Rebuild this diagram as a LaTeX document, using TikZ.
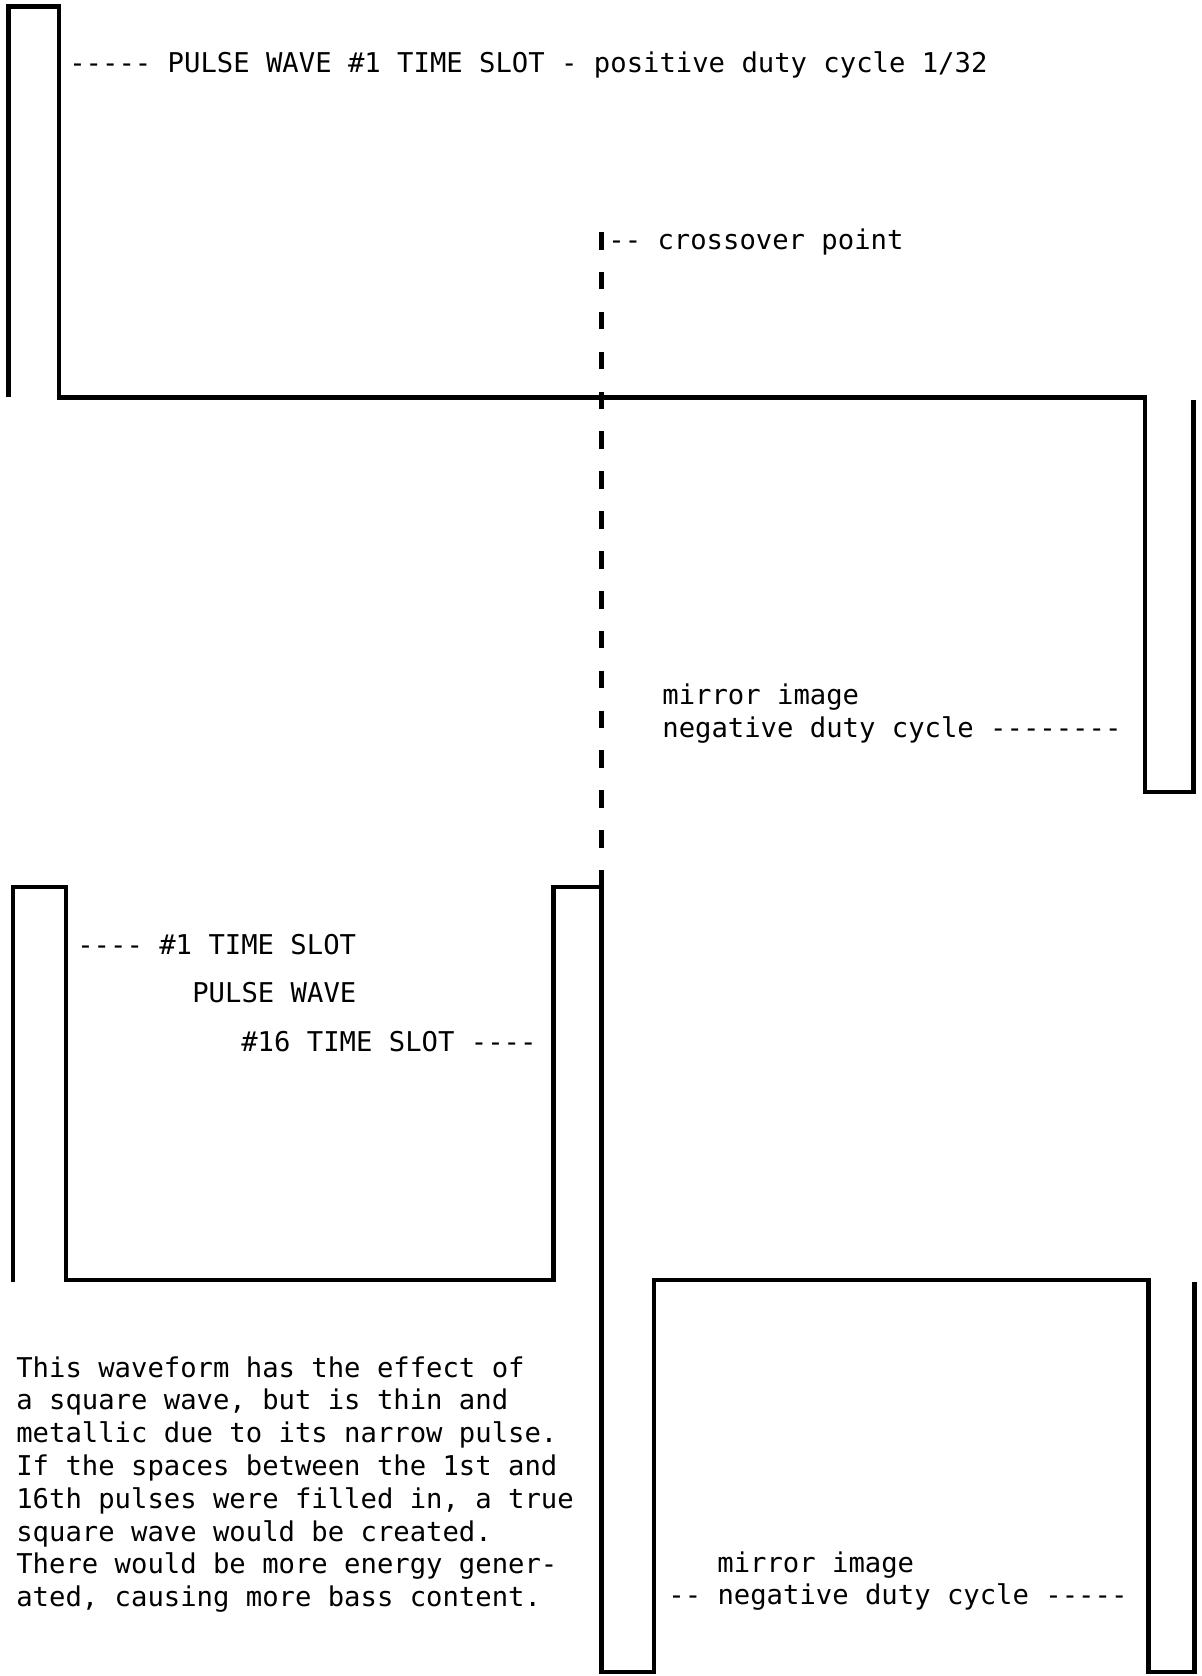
\documentclass[tikz,border=0pt]{standalone}
\usepackage{fontspec}
\setmonofont{DejaVu Sans Mono}
\begin{document}
\begin{tikzpicture}[x=0.02cm,y=-0.02cm,
  wave/.style={line width=2.3pt, line join=miter},
  crossline/.style={line width=2.6pt, dash pattern=on 10pt off 12.7pt},
  lbl/.style={anchor=base west, inner sep=0pt, font=\ttfamily\fontsize{15.5}{19}\selectfont}]
\useasboundingbox (0,0) rectangle (1202,1676);
% top waveform
\draw[wave] (8.5,397) -- (8.5,6.5) -- (59,6.5) -- (59,397.5) -- (1145,397.5)
  -- (1145,792) -- (1193.5,792) -- (1193.5,400);
% crossover line
\coordinate (ctop) at (601.5,232);
\coordinate (cbot) at (601.5,887);
\draw[crossline] (ctop) -- (cbot);
% bottom waveform
\draw[wave] (12.8,1282) -- (12.8,887) -- (66,887) -- (66,1280) -- (553.5,1280)
  -- (553.5,887) -- (601.5,887) -- (601.5,1672) -- (654,1672) -- (654,1280)
  -- (1148.5,1280) -- (1148.5,1672) -- (1194.5,1672) -- (1194.5,1282);
% labels
\node[lbl] (title) at (69,73) {----- PULSE WAVE \#1 TIME SLOT - positive duty cycle 1/32};
\node[lbl] (cross) at (608,250) {-- crossover point};
\node[lbl] (mirA) at (662,704) {mirror image};
\node[lbl] (negA) at (662,737) {negative duty cycle --------};
\node[lbl] (slotA) at (77,954) {---- \#1 TIME SLOT};
\node[lbl] (pwave) at (192,1002) {PULSE WAVE};
\node[lbl] (slotB) at (241,1051) {\#16 TIME SLOT ----};
\node[lbl] (pA) at (16,1377) {This waveform has the effect of};
\node[lbl] (pB) at (16,1409.8) {a square wave, but is thin and};
\node[lbl] (pC) at (16,1442.6) {metallic due to its narrow pulse.};
\node[lbl] (pD) at (16,1475.4) {If the spaces between the 1st and};
\node[lbl] (pE) at (16,1508.2) {16th pulses were filled in, a true};
\node[lbl] (pF) at (16,1541) {square wave would be created.};
\node[lbl] (pG) at (16,1573.8) {There would be more energy gener-};
\node[lbl] (pH) at (16,1606.6) {ated, causing more bass content.};
\node[lbl] (mirB) at (717,1572) {mirror image};
\node[lbl] (negB) at (668,1604) {-- negative duty cycle -----};
\end{tikzpicture}
\end{document}
